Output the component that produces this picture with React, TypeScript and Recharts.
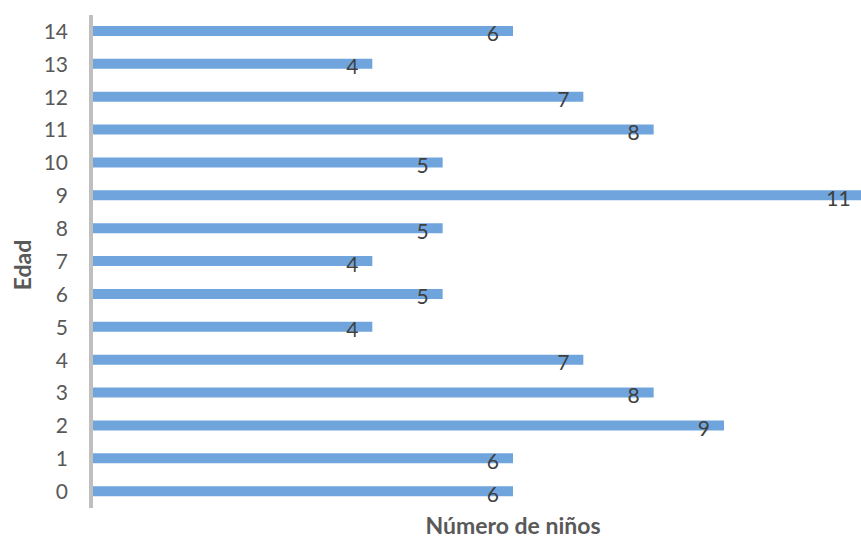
import { BarChart, Bar, XAxis, YAxis, LabelList, Label } from 'recharts';

// edades (eje vertical) y número de niños por edad
const edades = ['0', '1', '2', '3', '4', '5', '6', '7', '8', '9', '10', '11', '12', '13', '14'];
const ninos = [6, 6, 9, 8, 7, 4, 5, 4, 5, 11, 5, 8, 7, 4, 6];

const data = edades.map((edad, i) => ({ edad, ninos: ninos[i] }));

const FONT = 'Lato, "Open Sans", sans-serif';
const TITLE_STYLE = { fontSize: 23, fontWeight: 700, fill: '#595959', fontFamily: FONT };

// título del eje vertical, girado
const EdadLabel = () => (
    <text
        x={22}
        y={265}
        transform="rotate(-90, 22, 265)"
        textAnchor="middle"
        dominantBaseline="central"
        style={TITLE_STYLE}
    >
        Edad
    </text>
);

export default function App() {
    return (
        <div style={{ position: 'absolute', left: 0, top: 0, width: 861, height: 538, overflow: 'hidden', background: '#fff' }}>
            <BarChart
                width={935}
                height={538}
                data={data}
                layout="vertical"
                margin={{ top: 15, right: 0, bottom: 0, left: 0 }}
                style={{ fontFamily: FONT }}
            >
                <XAxis
                    type="number"
                    domain={[0, 12]}
                    height={30}
                    tick={false}
                    tickLine={false}
                    axisLine={false}
                >
                    <Label value="Número de niños" position="insideBottom" offset={4} style={TITLE_STYLE} />
                </XAxis>
                <YAxis
                    type="category"
                    dataKey="edad"
                    reversed
                    width={91}
                    tickLine={false}
                    tickSize={0}
                    tickMargin={23}
                    axisLine={{ stroke: '#bfbfbf', strokeWidth: 4 }}
                    tick={{ fontSize: 21, fill: '#595959', fontFamily: FONT }}
                    interval={0}
                >
                    <Label content={<EdadLabel />} />
                </YAxis>
                <Bar dataKey="ninos" fill="#6fa5dc" barSize={10} isAnimationActive={false}>
                    <LabelList
                        dataKey="ninos"
                        position="insideRight"
                        offset={14}
                        dy={3}
                        style={{ fontSize: 21, fill: '#404040', fontFamily: FONT }}
                    />
                </Bar>
            </BarChart>
        </div>
    );
}
